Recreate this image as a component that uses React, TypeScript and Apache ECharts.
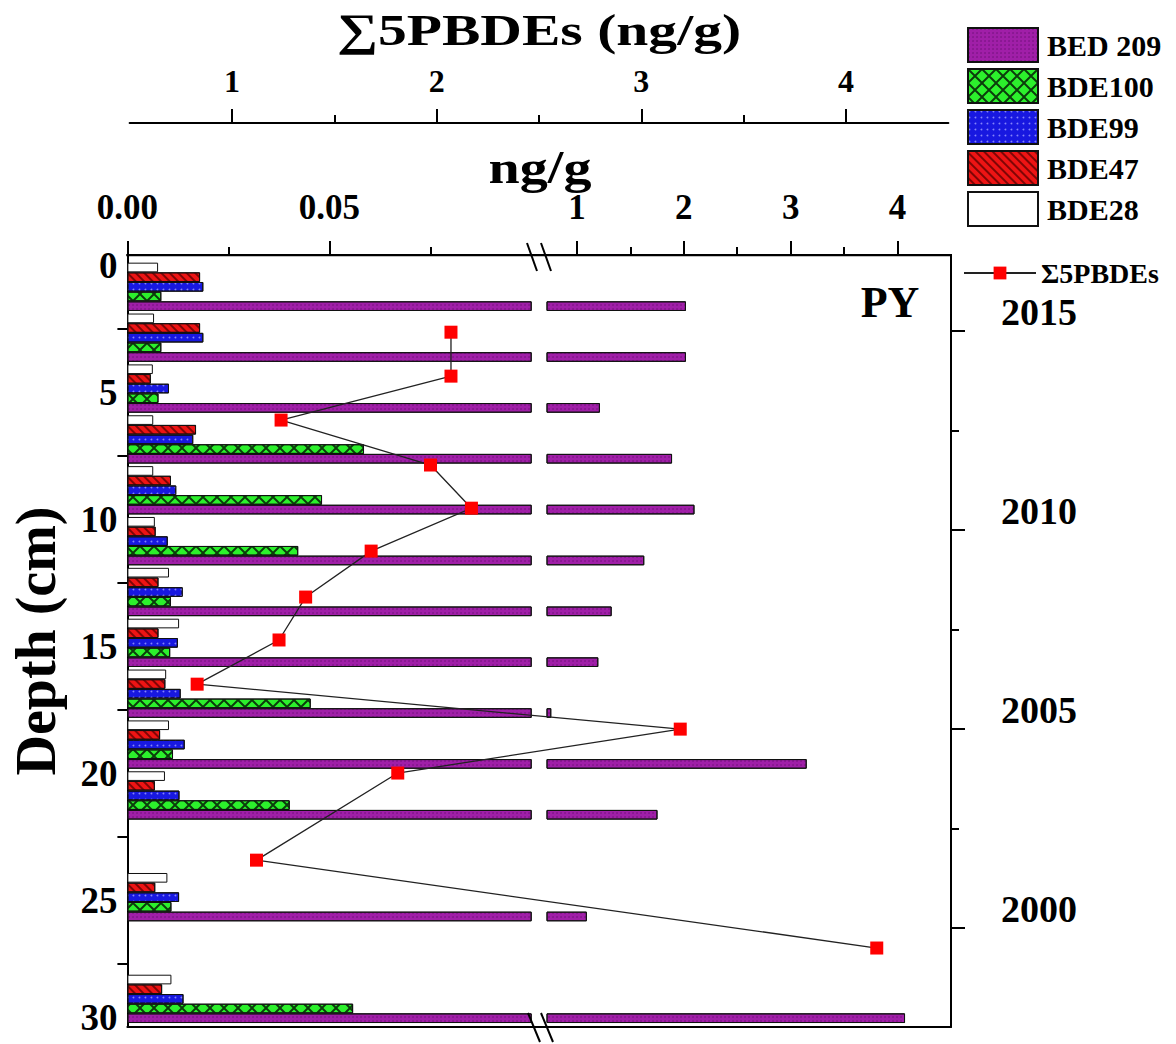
import React, { useEffect, useRef } from "react";
import * as echarts from "echarts";

// ---------- data ----------
const depthSlots = [
  "0-2", "2-4", "4-6", "6-8", "8-10", "10-12", "12-14", "14-16",
  "16-18", "18-20", "20-22", "22-24", "24-26", "26-28", "28-30",
];
const bde28 = [0.0076, 0.0066, 0.0063, 0.0064, 0.0064, 0.0068, 0.0103, 0.0128, 0.0096, 0.0103, 0.0093, null, 0.0099, null, 0.0109];
const bde47 = [0.018, 0.018, 0.0058, 0.017, 0.0108, 0.007, 0.0077, 0.0077, 0.0094, 0.0081, 0.0068, null, 0.0069, null, 0.0086];
const bde99 = [0.0188, 0.0188, 0.0103, 0.0163, 0.0121, 0.01, 0.0137, 0.0125, 0.0132, 0.0142, 0.0129, null, 0.0128, null, 0.0139];
const bde100 = [0.0084, 0.0084, 0.0077, 0.0586, 0.0482, 0.0423, 0.0108, 0.0106, 0.0454, 0.0113, 0.0402, null, 0.0109, null, 0.0559];
const bde209 = [2.02, 2.02, 1.215, 1.89, 2.1, 1.63, 1.325, 1.2, 0.76, 3.15, 1.754, null, 1.093, null, 4.07];

const sumDepth = [2.64, 4.37, 6.1, 7.87, 9.57, 11.26, 13.07, 14.76, 16.5, 18.27, 20.0, 23.43, 26.89];
const sumValues = [2.07, 2.07, 1.24, 1.97, 2.17, 1.68, 1.36, 1.23, 0.83, 3.19, 1.81, 1.12, 4.15];

const depthLabels = [0, 5, 10, 15, 20, 25, 30];
const depthTicks = [2.5, 7.5, 12.5, 17.5, 22.5, 27.5];
const yearLabels = [2000, 2005, 2010, 2015];
const yearMinorTicks = [1997.5, 2002.5, 2007.5, 2012.5];
const lowTicks = [0, 0.05];
const lowMinorTicks = [0.025, 0.075];
const highTicks = [1, 2, 3, 4];
const highMinorTicks = [1.5, 2.5, 3.5];
const sumTicks = [1, 2, 3, 4];
const sumMinorTicks = [1.5, 2.5, 3.5];

// ---------- styling ----------
const FONT = "'Liberation Serif', 'Times New Roman', serif";
const AX = { color: "#000", width: 2 };
const axLine = () => ({ show: true, onZero: false, lineStyle: { ...AX } });

const congeners = [
  { name: "BDE28", data: bde28, color: "#ffffff", decal: undefined as any },
  {
    name: "BDE47", data: bde47, color: "#ee1414",
    decal: { symbol: "rect", symbolSize: 1, dashArrayX: [1, 0], dashArrayY: [2, 4], rotation: Math.PI / 4, color: "rgba(90,0,0,0.75)" },
  },
  {
    name: "BDE99", data: bde99, color: "#1818e0",
    decal: { symbol: "circle", symbolSize: 0.6, dashArrayX: [2.5, 2.5], dashArrayY: [2.5, 2.5], color: "rgba(150,150,255,0.85)" },
  },
  {
    name: "BDE100", data: bde100, color: "#2cf02c",
    decal: {
      symbol: "path://M0,0L10,0L100,90L100,100L90,100L0,10ZM90,0L100,0L100,10L10,100L0,100L0,90Z",
      symbolSize: 1, symbolKeepAspect: false, dashArrayX: [14, 0], dashArrayY: [14, 0], color: "#0b3d0b",
    },
  },
  {
    name: "BED 209", data: bde209, color: "#a01fa8",
    decal: { symbol: "circle", symbolSize: 0.7, dashArrayX: [2, 1.5], dashArrayY: [2, 1.5], color: "rgba(60,0,70,0.55)" },
  },
];

function tickOnlyAxis(extra: any) {
  return {
    type: "value",
    axisLine: { show: false, onZero: false },
    axisLabel: { show: false },
    splitLine: { show: false },
    ...extra,
  };
}

const labelStyle = (size: number) => ({ fontSize: size, fontFamily: FONT, fontWeight: "bold", color: "#000" });

function buildOption(): any {
  const barSeries: any[] = [];
  [0, 1].forEach((g) => {
    congeners.forEach((c) => {
      barSeries.push({
        type: "bar",
        name: c.name,
        xAxisIndex: g,
        yAxisIndex: g,
        data: c.data,
        barGap: "0%",
        barCategoryGap: "5%",
        clip: true,
        silent: true,
        itemStyle: { color: c.color, borderColor: "#111", borderWidth: 1, decal: c.decal },
      });
    });
  });

  const TOP = 255;
  const H = 772;

  return {
    animation: false,
    backgroundColor: "#ffffff",
    textStyle: { fontFamily: FONT, fontWeight: "bold", color: "#000" },
    grid: [
      { left: 127.4, top: 261.4, width: 403.8, height: 762.9 }, // 0 bars, low segment
      { left: 547, top: 261.4, width: 404, height: 762.9 }, // 1 bars, high segment
      { left: 129.6, top: TOP, width: 818.8, height: H }, // 2 sum line
      { left: 127.4, top: TOP, width: 823.6, height: H }, // 3 frame, depth, years
      { left: 127.4, top: TOP, width: 403.8, height: H }, // 4 ng/g low axis
      { left: 547, top: TOP, width: 404, height: H }, // 5 ng/g high axis
    ],
    xAxis: [
      { gridIndex: 0, type: "value", min: 0, max: 0.1, show: false },
      { gridIndex: 1, type: "value", min: 0.72, max: 4.5, show: false },
      {
        gridIndex: 2, type: "value", position: "top", offset: 132, min: 0.5, max: 4.5,
        axisLine: axLine(),
        axisTick: { customValues: sumTicks, length: 14, lineStyle: { ...AX } },
        axisLabel: { customValues: sumTicks, margin: 26, ...labelStyle(32) },
        splitLine: { show: false },
      },
      tickOnlyAxis({
        gridIndex: 2, position: "top", offset: 132, min: 0.5, max: 4.5,
        axisTick: { customValues: sumMinorTicks, length: 8, lineStyle: { ...AX } },
      }),
      {
        gridIndex: 3, type: "value", position: "bottom", min: 0, max: 1,
        axisLine: axLine(), axisTick: { show: false }, axisLabel: { show: false }, splitLine: { show: false },
      },
      {
        gridIndex: 4, type: "value", position: "top", min: 0, max: 0.1,
        axisLine: axLine(),
        axisTick: { customValues: lowTicks, length: 14, lineStyle: { ...AX } },
        axisLabel: { customValues: lowTicks, margin: 30, ...labelStyle(35), formatter: (v: number) => v.toFixed(2) },
        splitLine: { show: false },
      },
      tickOnlyAxis({
        gridIndex: 4, position: "top", min: 0, max: 0.1,
        axisTick: { customValues: lowMinorTicks, length: 8, lineStyle: { ...AX } },
      }),
      {
        gridIndex: 5, type: "value", position: "top", min: 0.72, max: 4.5,
        axisLine: axLine(),
        axisTick: { customValues: highTicks, length: 14, lineStyle: { ...AX } },
        axisLabel: { customValues: highTicks, margin: 30, ...labelStyle(35) },
        splitLine: { show: false },
      },
      tickOnlyAxis({
        gridIndex: 5, position: "top", min: 0.72, max: 4.5,
        axisTick: { customValues: highMinorTicks, length: 8, lineStyle: { ...AX } },
      }),
    ],
    yAxis: [
      { gridIndex: 0, type: "category", data: depthSlots, inverse: true, show: false },
      { gridIndex: 1, type: "category", data: depthSlots, inverse: true, show: false },
      { gridIndex: 2, type: "value", min: -0.4, max: 30, inverse: true, show: false },
      {
        gridIndex: 3, type: "value", position: "left", min: -0.4, max: 30, inverse: true,
        name: "Depth (cm)", nameLocation: "middle", nameGap: 63, nameRotate: 90,
        nameTextStyle: labelStyle(56),
        axisLine: axLine(),
        axisTick: { customValues: depthTicks, length: 10, lineStyle: { ...AX } },
        axisLabel: {
          customValues: depthLabels, margin: 10, ...labelStyle(37),
          formatter: (v: number) => (v === 30 ? "{last|30}" : String(v)),
          rich: { last: { ...labelStyle(37), padding: [0, 0, 20, 0] } },
        },
        splitLine: { show: false },
      },
      {
        gridIndex: 3, type: "value", position: "right", min: 1997.51, max: 2016.91,
        axisLine: axLine(),
        axisTick: { customValues: yearLabels, length: 14, lineStyle: { ...AX } },
        axisLabel: {
          customValues: yearLabels, margin: 50, ...labelStyle(38),
          verticalAlign: "bottom",
          formatter: (v: number) => String(Math.round(v)),
        },
        splitLine: { show: false },
      },
      tickOnlyAxis({
        gridIndex: 3, position: "right", min: 1997.51, max: 2016.91,
        axisTick: { customValues: yearMinorTicks, length: 8, lineStyle: { ...AX } },
      }),
      { gridIndex: 4, type: "value", min: 0, max: 1, show: false },
      { gridIndex: 5, type: "value", min: 0, max: 1, show: false },
    ],
    legend: [
      {
        data: ["BED 209", "BDE100", "BDE99", "BDE47", "BDE28"],
        orient: "vertical", left: 967, top: 27, padding: 0,
        itemWidth: 70, itemHeight: 34, itemGap: 5, icon: "rect", selectedMode: false,
        textStyle: { ...labelStyle(30), padding: [0, 0, 0, 4] },
      },
      {
        data: ["\u03A35PBDEs"],
        orient: "vertical", left: 963, top: 259, padding: 0,
        itemWidth: 72, itemHeight: 16, selectedMode: false,
        textStyle: labelStyle(28),
      },
    ],
    graphic: [
      // plot frame top edge (drawn as a thin filled band) and axis-break marks
      { type: "rect", z: 100, shape: { x: 126.4, y: 254, width: 825.6, height: 2.2 }, style: { fill: "#000" } },
      { type: "line", z: 100, shape: { x1: 527, y1: 243, x2: 537, y2: 271 }, style: { stroke: "#000", lineWidth: 2 } },
      { type: "line", z: 100, shape: { x1: 541, y1: 243, x2: 551, y2: 271 }, style: { stroke: "#000", lineWidth: 2 } },
      { type: "line", z: 100, shape: { x1: 528, y1: 1013, x2: 540, y2: 1042 }, style: { stroke: "#000", lineWidth: 2 } },
      { type: "line", z: 100, shape: { x1: 541, y1: 1013, x2: 553, y2: 1042 }, style: { stroke: "#000", lineWidth: 2 } },
      {
        type: "text", x: 539, y: 30, scaleX: 1.28,
        style: { text: "\u22115PBDEs (ng/g)", font: `bold 45px ${FONT}`, fill: "#000", align: "center", verticalAlign: "middle" },
      },
      {
        type: "text", x: 540, y: 167, scaleX: 1.22,
        style: { text: "ng/g", font: `bold 46px ${FONT}`, fill: "#000", align: "center", verticalAlign: "middle" },
      },
      {
        type: "text", x: 890, y: 302,
        style: { text: "PY", font: `bold 44px ${FONT}`, fill: "#000", align: "center", verticalAlign: "middle" },
      },
    ],
    series: [
      ...barSeries,
      {
        type: "line",
        name: "\u03A35PBDEs",
        xAxisIndex: 2,
        yAxisIndex: 2,
        data: sumValues.map((v, i) => [v, sumDepth[i]]),
        symbol: "rect",
        symbolSize: 13,
        z: 10,
        clip: false,
        silent: true,
        lineStyle: { color: "#222", width: 1.3 },
        itemStyle: { color: "#ff0000" },
      },
    ],
  };
}

export default function App() {
  const ref = useRef<HTMLDivElement>(null);
  useEffect(() => {
    document.body.style.margin = "0";
    const chart = echarts.init(ref.current!, null, { renderer: "svg" });
    chart.setOption(buildOption());
    return () => chart.dispose();
  }, []);
  return <div ref={ref} style={{ width: 1176, height: 1044, background: "#fff" }} />;
}
